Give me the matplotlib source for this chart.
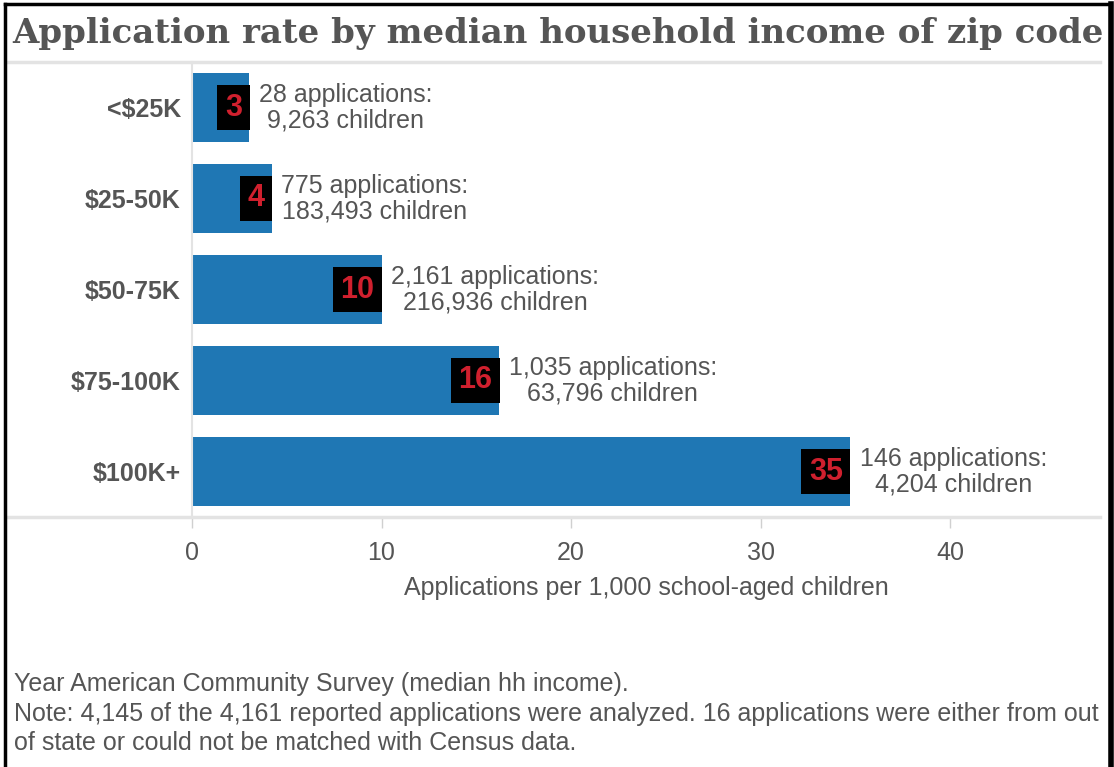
import matplotlib
matplotlib.use('Agg')
import matplotlib.pyplot as plt
from matplotlib.lines import Line2D
import numpy as np

categories = ['<$25K', '$25-50K', '$50-75K', '$75-100K', '$100K+']
rates = [3.0, 4.2, 10.0, 16.2, 34.7]
rate_labels = ['3', '4', '10', '16', '35']
applications = ['28', '775', '2,161', '1,035', '146']
children = ['9,263', '183,493', '216,936', '63,796', '4,204']
xticks = [0, 10, 20, 30, 40]

GRAY = '#555555'
LIGHT = '#e3e3e3'
SANS = ['Liberation Sans', 'DejaVu Sans']

plt.rcParams['font.family'] = SANS

fig = plt.figure(figsize=(11.14, 7.67), dpi=100)
ax = fig.add_axes([192 / 1114, 1 - 517 / 767, (1100 - 192) / 1114, (517 - 62) / 767])

y = np.arange(len(categories))
ax.barh(y, rates, height=0.75, color='#1f77b4')

for yi, r, lab, a, c in zip(y, rates, rate_labels, applications, children):
    ax.annotate(lab, (r, yi), xytext=(-5, 0), textcoords='offset points',
                ha='right', va='center', fontsize=22, fontweight='bold',
                color='#d0202e',
                bbox=dict(boxstyle='square,pad=0.25', fc='black', ec='none'))
    ax.annotate(f'{a} applications:\n{c} children', (r, yi), xytext=(7, 0),
                textcoords='offset points', ha='left', va='center',
                multialignment='center', fontsize=18, color=GRAY,
                linespacing=1.1)

ax.set_xlim(0, 47.9)
ax.set_ylim(4.5, -0.5)
ax.set_yticks(y)
ax.set_yticklabels(categories, fontsize=18, fontweight='bold', color=GRAY)
ax.set_xticks(xticks)
ax.set_xticklabels([str(t) for t in xticks], fontsize=18, color=GRAY)
ax.tick_params(axis='y', length=0, pad=8)
ax.tick_params(axis='x', length=8, width=1, color='#d0d0d0', pad=9)
for s in ['top', 'right', 'bottom']:
    ax.spines[s].set_visible(False)
ax.spines['left'].set_color(LIGHT)
ax.spines['left'].set_linewidth(1.5)
ax.set_xlabel('Applications per 1,000 school-aged children', fontsize=18,
              color=GRAY, labelpad=8)

# light frame lines that run past the axes
fig.add_artist(Line2D([8 / 1114, 1100 / 1114], [1 - 62 / 767] * 2,
                      color=LIGHT, lw=2.5))
fig.add_artist(Line2D([8 / 1114, 1100 / 1114], [1 - 517 / 767] * 2,
                      color=LIGHT, lw=2.5))

fig.text(558 / 1114, 1 - 33 / 767,
         'Application rate by median household income of zip code',
         ha='center', va='center', fontsize=24.5, fontweight='bold',
         family='DejaVu Serif', color=GRAY)

notes = ['Year American Community Survey (median hh income).',
         'Note: 4,145 of the 4,161 reported applications were analyzed. 16 applications were either from out',
         'of state or could not be matched with Census data.']
for i, line in enumerate(notes):
    fig.text(14 / 1114, 1 - (684 + 29.5 * i) / 767, line, ha='left',
             va='center', fontsize=18, color=GRAY)

# black border round the picture
fig.add_artist(Line2D([5 / 1114, 5 / 1114], [0, 1 - 4 / 767], color='black', lw=2.5, zorder=10))
fig.add_artist(Line2D([5 / 1114, 1109 / 1114], [1 - 4 / 767] * 2, color='black', lw=2.5, zorder=10))
fig.add_artist(Line2D([1111 / 1114] * 2, [0, 1 - 4 / 767], color='black', lw=4, zorder=10))

fig.savefig('out.png', dpi=100)
